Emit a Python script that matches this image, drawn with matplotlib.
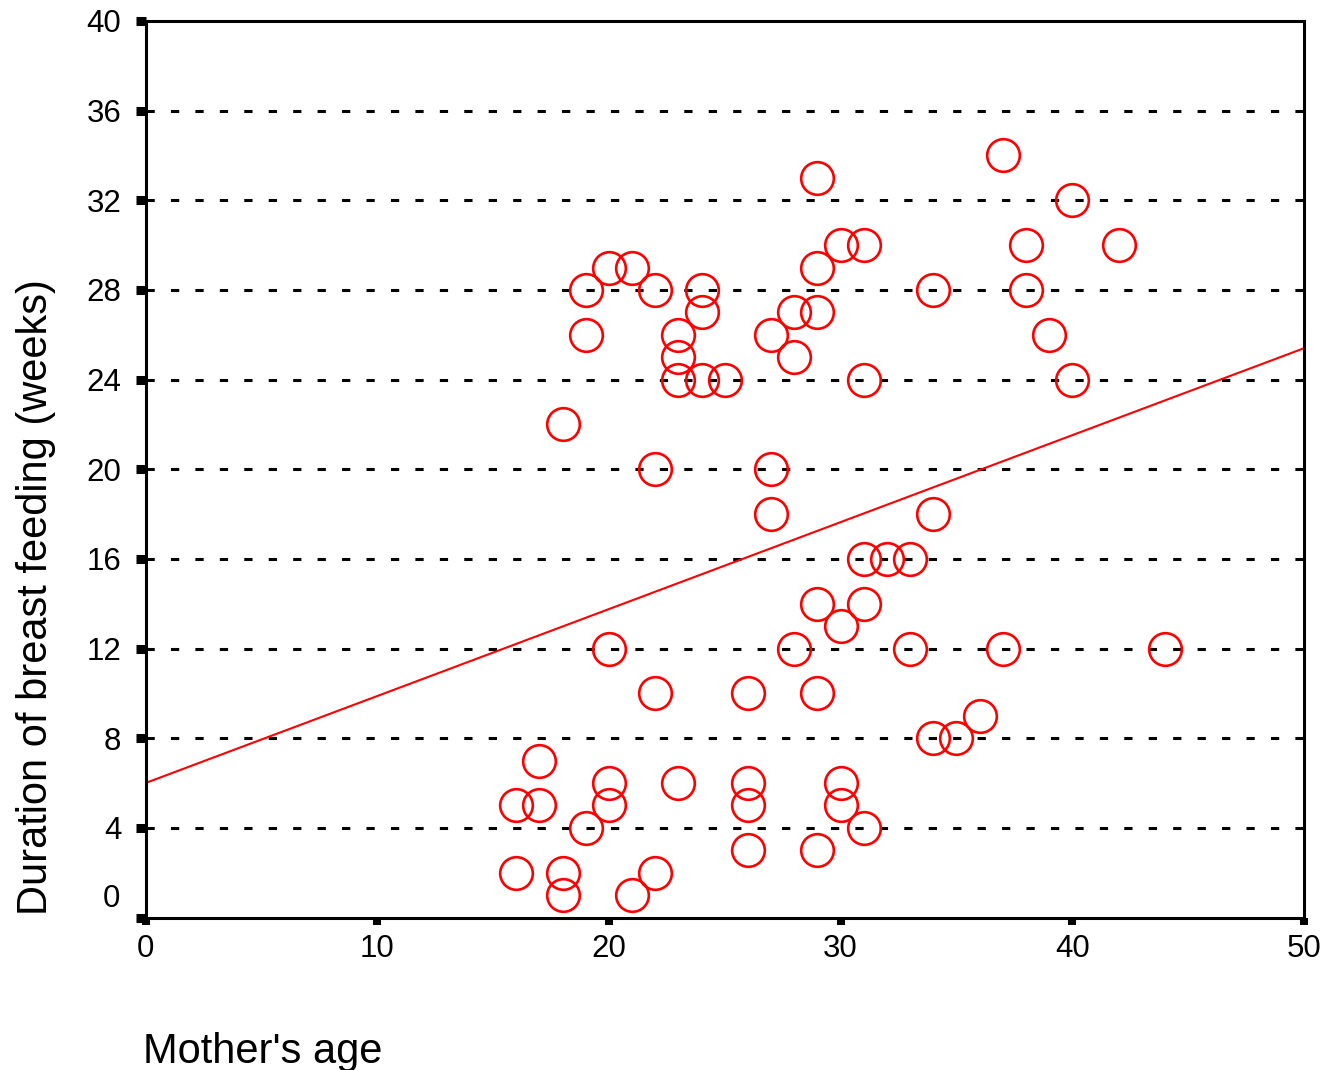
import numpy as np
import matplotlib
matplotlib.use("Agg")
import matplotlib.pyplot as plt

plt.rcParams['font.family'] = ['Liberation Sans', 'DejaVu Sans']

# mother's age vs weeks of breast feeding
age = [37, 29, 40, 20, 21, 29, 30, 31, 38, 42,
       19, 22, 24, 34, 38, 24, 28, 29, 19, 23,
       27, 39, 23, 28, 23, 24, 25, 31, 40, 18,
       22, 27, 27, 34, 31, 32, 33, 29, 31, 30,
       20, 28, 33, 37, 44, 22, 26, 29, 36, 34,
       35, 17, 20, 23, 26, 30, 16, 17, 20, 26,
       30, 19, 31, 26, 29, 16, 18, 22, 18, 21]
weeks = [34, 33, 32, 29, 29, 29, 30, 30, 30, 30,
         28, 28, 28, 28, 28, 27, 27, 27, 26, 26,
         26, 26, 25, 25, 24, 24, 24, 24, 24, 22,
         20, 20, 18, 18, 16, 16, 16, 14, 14, 13,
         12, 12, 12, 12, 12, 10, 10, 10, 9, 8,
         8, 7, 6, 6, 6, 6, 5, 5, 5, 5,
         5, 4, 4, 3, 3, 2, 2, 2, 1, 1]

# fitted line as drawn in the picture
fit_intercept = 6.0
fit_slope = 0.388

x_ticks = [0, 10, 20, 30, 40, 50]
y_ticks = [0, 4, 8, 12, 16, 20, 24, 28, 32, 36, 40]

W, H = 1322, 1070
fig = plt.figure(figsize=(W / 100, H / 100), dpi=100)
ax = fig.add_axes([145.5 / W, 1 - 917.5 / H, (1304 - 145.5) / W, (917.5 - 21) / H])

ax.plot(age, weeks, 'o', ms=23.5, mfc='none', mec='#ff0000', mew=1.9, zorder=3)

xs = np.array([0, 50])
ax.plot(xs, fit_intercept + fit_slope * xs, color='#ff0000', lw=1.5, zorder=2)

ax.set_xlim(0, 50)
ax.set_ylim(0, 40)

# dashed horizontal grid
for y in y_ticks[1:-1]:
    ax.axhline(y, color='black', lw=2.2, linestyle=(0, (2.7, 5.3)), zorder=1)

for s in ax.spines.values():
    s.set_linewidth(2.2)
    s.set_color('black')
    s.set_zorder(4)

ax.set_xticks(x_ticks)
ax.set_xticklabels([str(v) for v in x_ticks])
ax.set_yticks(y_ticks)
ax.set_yticklabels([''] + [str(v) for v in y_ticks[1:]])
ax.tick_params(axis='y', direction='out', length=7, width=6.5, pad=10.5, labelsize=22.5)
ax.tick_params(axis='x', direction='out', length=5, width=5.8, pad=7, labelsize=22.5)

# the "0" on the y axis sits a little above its tick
ax.annotate('0', xy=(0, 1), xycoords=('axes fraction', 'data'),
            xytext=(-18, 0), textcoords='offset points',
            ha='right', va='center_baseline', fontsize=22.5)

fig.text(143 / W, 7 / H, "Mother's age", fontsize=30, ha='left', va='baseline')
fig.text(47 / W, 1 - 915 / H, 'Duration of breast feeding (weeks)', fontsize=30,
         rotation=90, rotation_mode='anchor', ha='left', va='baseline')

fig.savefig('out.png', dpi=100)
